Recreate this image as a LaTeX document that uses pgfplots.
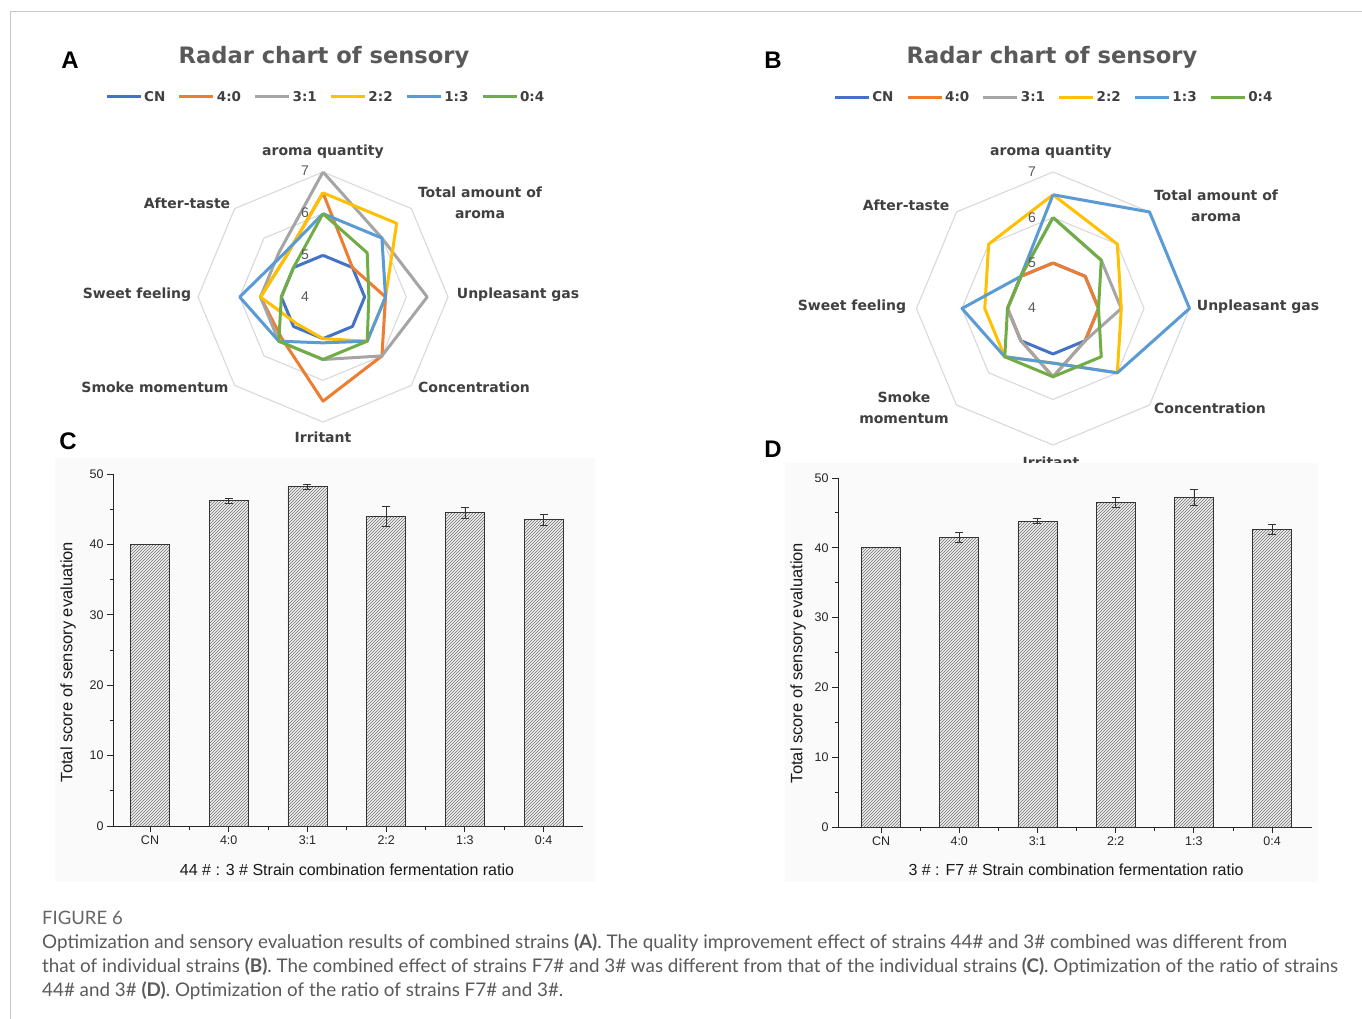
\documentclass[border=0pt]{standalone}
\usepackage{pgfplots}
\usepackage{pgfplotstable}
\pgfplotsset{compat=1.18}
\usetikzlibrary{patterns}
\usepackage{fontspec}
\setmainfont{Liberation Sans}
\newfontfamily\dejavu{DejaVu Sans}
\newfontfamily\lato{Lato}

\definecolor{cCN}{HTML}{4472C4}
\definecolor{c40}{HTML}{ED7D31}
\definecolor{c31}{HTML}{A5A5A5}
\definecolor{c22}{HTML}{FFC000}
\definecolor{c13}{HTML}{5B9BD5}
\definecolor{c04}{HTML}{70AD47}
\definecolor{gridc}{HTML}{D9D9D9}
\definecolor{lab}{HTML}{404040}
\definecolor{ttl}{HTML}{595959}
\definecolor{capc}{HTML}{5A5A5A}

\newcommand{\labfont}{\dejavu\bfseries\fontsize{14}{21}\selectfont}
\newcommand{\legfont}{\dejavu\bfseries\fontsize{13.5}{16}\selectfont}
\newcommand{\ttlfont}{\dejavu\bfseries\fontsize{22.6}{26}\selectfont}
\newcommand{\rtick}{\fontsize{14}{16}\selectfont}
\newcommand{\capfont}{\lato\fontsize{18.8}{22}\selectfont}

% sensory scores, one row per attribute (angle in degrees); first row repeated to close the polygon
\pgfplotstableread{
ang  CN  r40  r31  r22  r13  r04
90   5   6.5  7.0  6.5  6.0  6.0
45   5   5.0  6.0  6.5  6.0  5.5
0    5   5.5  6.5  5.5  5.5  5.1
-45  5   6.0  6.0  5.5  5.5  5.5
-90  5   6.5  5.5  5.0  5.1  5.5
-135 5   5.4  5.5  4.9  5.5  5.5
-180 5   5.5  5.5  5.5  6.0  5.0
-225 5   5.3  5.5  5.3  5.4  5.0
-270 5   6.5  7.0  6.5  6.0  6.0
}\radarA

\pgfplotstableread{
ang  CN  r40  r31  r22  r13  r04
90   5   5.0  6.0  6.5  6.5  6.0
45   5   5.0  5.5  6.0  7.0  5.5
0    5   5.0  5.5  5.5  7.0  5.0
-45  5   5.0  5.0  6.0  6.0  5.5
-90  5   5.5  5.5  5.2  5.2  5.5
-135 5   5.0  5.0  5.5  5.5  5.5
-180 5   5.0  5.0  5.5  6.0  5.0
-225 5   5.0  5.0  6.0  5.0  5.0
-270 5   5.0  6.0  6.5  6.5  6.0
}\radarB

% total sensory scores with standard deviations
\pgfplotstableread{
i  v     e
0  40.0  0.0
1  46.2  0.35
2  48.2  0.35
3  44.0  1.45
4  44.5  0.75
5  43.5  0.75
}\barC

\pgfplotstableread{
i  v     e
0  40.0  0.0
1  41.5  0.75
2  43.8  0.35
3  46.5  0.7
4  47.2  1.1
5  42.6  0.7
}\barD

\newcommand{\radarline}[3]{%
  \addplot[#1] table[x expr={(\thisrow{#2}-4)*cos(\thisrow{ang})},
                     y expr={(\thisrow{#2}-4)*sin(\thisrow{ang})}] {#3};}
\newcommand{\ring}[2]{%
  \addplot[gridc, line width=1.1pt, forget plot] table[x expr={#1*cos(\thisrow{ang})},
                     y expr={#1*sin(\thisrow{ang})}] {#2};}

\pgfplotsset{
  radar/.style={anchor=center, hide axis, clip=false,
    xmin=-3.2, xmax=3.2, ymin=-3.2, ymax=3.2,
    every axis plot/.append style={line width=3pt, line join=round, mark=none},
    legend columns=6,
    legend style={draw=none, fill=none, anchor=center, font=\legfont, text=lab,
      /tikz/every even column/.append style={column sep=10.6pt}},
    legend image code/.code={\draw[##1] (0pt,0pt) -- (34pt,0pt);},
  },
  barax/.style={anchor=south west, scale only axis,
    axis lines*=left, axis line style={-, line width=1pt, black!85},
    ymin=0, ymax=50, ytick={0,10,...,50}, minor ytick={5,15,...,45},
    xtick={0,...,5}, xticklabels={CN,4:0,3:1,2:2,1:3,0:4},
    minor xtick={0.5,1.5,...,4.5},
    tick align=outside, major tick length=6pt, minor tick length=3.5pt,
    tick style={line width=0.9pt, black!85},
    tick label style={font=\fontsize{12.5}{14}\selectfont, text=black!85},
    /pgf/number format/assume math mode=true,
  },
  hatchbar/.style={ybar, bar width=39pt, draw=black!80, line width=0.9pt,
    fill=black!6, postaction={pattern=north east lines, pattern color=black!55},
    error bars/.cd, y dir=both, y explicit, error mark=|,
    error bar style={line width=0.8pt, black!80},
    error mark options={line width=0.8pt, mark size=4pt, black!80}},
}

\begin{document}
\begin{tikzpicture}
\path[use as bounding box, fill=white] (0,0) rectangle (1362pt,-1019pt);
\draw[black!22, line width=1pt] (10pt,-1019pt) -- (10pt,-12pt) -- (1362pt,-12pt);

% ---------- panel A ----------
\node[font=\fontsize{24}{28}\selectfont\bfseries] at (70pt,-60pt) {A};
\node[font=\ttlfont, text=ttl] at (324pt,-57pt) {Radar chart of sensory};
\begin{axis}[radar, at={(323pt,-297pt)}, x=41.67pt, y=41.67pt,
  legend style={at={(0.51,1.25)}}]
  \ring{1}{\radarA}\ring{2}{\radarA}\ring{3}{\radarA}
  \radarline{cCN}{CN}{\radarA}\addlegendentry{CN}
  \radarline{c40}{r40}{\radarA}\addlegendentry{4:0}
  \radarline{c31}{r31}{\radarA}\addlegendentry{3:1}
  \radarline{c22}{r22}{\radarA}\addlegendentry{2:2}
  \radarline{c13}{r13}{\radarA}\addlegendentry{1:3}
  \radarline{c04}{r04}{\radarA}\addlegendentry{0:4}
\end{axis}
\foreach \v/\yy in {7/171,6/213,5/255,4/297}
  \node[font=\rtick, text=ttl] at (305pt,-\yy pt) {\v};
\begin{scope}[every node/.style={font=\labfont, text=lab, align=center}]
  \node at (323pt,-152pt) {aroma quantity};
  \node at (480pt,-202.5pt) {Total amount of\\aroma};
  \node at (518pt,-295pt) {Unpleasant gas};
  \node at (474pt,-387pt) {Concentration};
  \node at (323pt,-437pt) {Irritant};
  \node at (155pt,-387pt) {Smoke momentum};
  \node at (137pt,-295pt) {Sweet feeling};
  \node at (187pt,-203pt) {After-taste};
\end{scope}

% ---------- panel B ----------
\node[font=\fontsize{24}{28}\selectfont\bfseries] at (773pt,-60pt) {B};
\node[font=\ttlfont, text=ttl] at (1052pt,-57pt) {Radar chart of sensory};
\begin{axis}[radar, at={(1053pt,-308.5pt)}, x=45.5pt, y=45.5pt,
  legend style={at={(0.503,1.226)}}]
  \ring{1}{\radarB}\ring{2}{\radarB}\ring{3}{\radarB}
  \radarline{cCN}{CN}{\radarB}\addlegendentry{CN}
  \radarline{c40}{r40}{\radarB}\addlegendentry{4:0}
  \radarline{c31}{r31}{\radarB}\addlegendentry{3:1}
  \radarline{c22}{r22}{\radarB}\addlegendentry{2:2}
  \radarline{c13}{r13}{\radarB}\addlegendentry{1:3}
  \radarline{c04}{r04}{\radarB}\addlegendentry{0:4}
\end{axis}
\foreach \v/\yy in {7/172,6/218,5/263,4/308}
  \node[font=\rtick, text=ttl] at (1032pt,-\yy pt) {\v};
\begin{scope}[every node/.style={font=\labfont, text=lab, align=center}]
  \node at (1051pt,-152pt) {aroma quantity};
  \node at (1216pt,-205.5pt) {Total amount of\\aroma};
  \node at (1258pt,-307pt) {Unpleasant gas};
  \node at (1210pt,-408pt) {Concentration};
  \node at (1051pt,-462pt) {Irritant};
  \node at (904pt,-408pt) {Smoke\\momentum};
  \node at (852pt,-307pt) {Sweet feeling};
  \node at (906pt,-205pt) {After-taste};
\end{scope}

% ---------- panel C ----------
\fill[black!2] (55pt,-458pt) rectangle (595pt,-882pt);
\node[font=\fontsize{24}{28}\selectfont\bfseries] at (68pt,-441pt) {C};
\begin{axis}[barax, at={(113pt,-826pt)}, width=470pt, height=352pt,
  xmin=-0.47, xmax=5.5]
  \addplot[hatchbar] table[x=i, y=v, y error=e] {\barC};
\end{axis}
\node[rotate=90, font=\fontsize{16.5}{18}\selectfont, text=black!90] at (68pt,-662pt)
  {Total score of sensory evaluation};
\node[font=\fontsize{16}{18}\selectfont, text=black!90] at (347pt,-870pt)
  {44 \# : 3 \# Strain combination fermentation ratio};

% ---------- panel D ----------
\fill[black!2] (785pt,-463pt) rectangle (1318pt,-882pt);
\node[font=\fontsize{24}{28}\selectfont\bfseries] at (773pt,-449pt) {D};
\begin{axis}[barax, at={(838pt,-827pt)}, width=474pt, height=349pt,
  xmin=-0.55, xmax=5.51]
  \addplot[hatchbar] table[x=i, y=v, y error=e] {\barD};
\end{axis}
\node[rotate=90, font=\fontsize{16.5}{18}\selectfont, text=black!90] at (798pt,-663pt)
  {Total score of sensory evaluation};
\node[font=\fontsize{16}{18}\selectfont, text=black!90] at (1076pt,-870pt)
  {3 \# : F7 \# Strain combination fermentation ratio};

% ---------- caption ----------
\begin{scope}[every node/.style={anchor=base west, inner sep=0pt, text=capc}]
  \node[font=\lato\fontsize{18.5}{20}\selectfont, text=black!60] at (42pt,-924pt) {FIGURE 6};
  \node[font=\capfont] at (42pt,-948pt)
    {Optimization and sensory evaluation results of combined strains \textbf{(A)}. The quality improvement effect of strains 44\# and 3\# combined was different from};
  \node[font=\capfont] at (42pt,-972pt)
    {that of individual strains \textbf{(B)}. The combined effect of strains F7\# and 3\# was different from that of the individual strains \textbf{(C)}. Optimization of the ratio of strains};
  \node[font=\capfont] at (42pt,-996pt)
    {44\# and 3\# \textbf{(D)}. Optimization of the ratio of strains F7\# and 3\#.};
\end{scope}
\end{tikzpicture}
\end{document}
